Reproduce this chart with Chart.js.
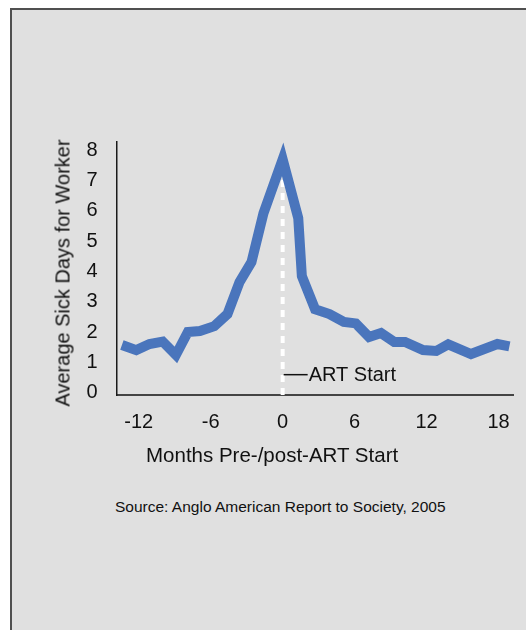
<!DOCTYPE html>
<html>
<head>
<meta charset="utf-8">
<script src="https://cdn.jsdelivr.net/npm/chart.js@4.4.1/dist/chart.umd.min.js"></script>
<style>
body{margin:0;background:#fff;font-family:"Liberation Sans",Arial,sans-serif;}
#panel{position:absolute;left:10px;top:8px;width:514px;height:620px;background:#e0e0e0;border-left:2px solid #505050;border-top:2px solid #505050;}
#wrap{position:absolute;left:0;top:0;width:526px;height:470px;}
.note{position:absolute;color:#111;white-space:nowrap;}
#yTitle{left:63px;top:273px;font-size:20px;transform:translate(-50%,-50%) rotate(-90deg);}
</style>
</head>
<body>
<div id="panel"></div>
<div id="wrap"><canvas id="myChart"></canvas></div>
<div class="note" id="yTitle">Average Sick Days for Worker</div>
<div class="note" id="xTitle" style="left:146px;top:443px;font-size:20.5px;">Months Pre-/post-ART Start</div>
<div class="note" id="source" style="left:115px;top:498px;font-size:15.5px;">Source: Anglo American Report to Society, 2005</div>
<script>
// months relative to ART start
var months = [-13.4, -12.2, -11.1, -10.0, -8.9, -7.9, -6.9, -5.7, -4.6, -3.6, -2.6, -1.6, 0,
              1.3, 1.6, 2.7, 3.9, 5.1, 6.1, 7.2, 8.2, 9.3, 10.2, 11.7, 12.8, 13.8, 15.7, 17.9, 18.9];
// average sick days per worker
var sickDays = [1.58, 1.41, 1.61, 1.69, 1.25, 2.01, 2.04, 2.2, 2.6, 3.65, 4.31, 5.92, 7.7,
                5.76, 3.85, 2.76, 2.6, 2.34, 2.29, 1.84, 1.97, 1.68, 1.68, 1.41, 1.38, 1.6, 1.28, 1.61, 1.53];
// ART start marker
var artMonth = [0, 0];
var artDays = [-0.07, 7.6];

var monthTicks = [-12, -6, 0, 6, 12, 18];
var dayTicks = [0, 1, 2, 3, 4, 5, 6, 7, 8];

var FONT = '"Liberation Sans", Arial, sans-serif';
Chart.defaults.font.family = FONT;
Chart.defaults.color = '#111';

var artLabel = {
    id: 'artLabel',
    afterDatasetsDraw: function(chart){
        var ctx = chart.ctx;
        var px = chart.scales.x.getPixelForValue(artMonth[0]);
        var py = chart.scales.y.getPixelForValue(0.6);
        ctx.save();
        ctx.strokeStyle = '#111';
        ctx.lineWidth = 1.5;
        ctx.beginPath();
        ctx.moveTo(px + 1, py);
        ctx.lineTo(px + 25, py);
        ctx.stroke();
        ctx.fillStyle = '#111';
        ctx.font = '20px ' + FONT;
        ctx.textBaseline = 'middle';
        ctx.fillText('ART Start', px + 26, py + 1);
        ctx.restore();
    }
};

var ctx = document.getElementById('myChart').getContext('2d');
var chart = new Chart(ctx, {
    type: 'line',
    data: {
        datasets: [{
            label: 'Average Sick Days',
            data: sickDays.map(function(v, i){ return {x: months[i], y: v}; }),
            borderColor: '#4a75bc',
            borderWidth: 10,
            borderJoinStyle: 'miter',
            borderCapStyle: 'butt',
            pointRadius: 0,
            tension: 0,
            fill: false
        }, {
            label: 'ART Start',
            data: artDays.map(function(v, i){ return {x: artMonth[i], y: v}; }),
            borderColor: '#ffffff',
            borderWidth: 4,
            borderDash: [7, 6],
            pointRadius: 0,
            fill: false
        }]
    },
    options: {
        responsive: true,
        maintainAspectRatio: false,
        animation: false,
        layout: { padding: { top: 142, right: 13, left: 0, bottom: 0 } },
        plugins: {
            legend: { display: false },
            tooltip: { enabled: false }
        },
        scales: {
            x: {
                type: 'linear',
                min: -13.85,
                max: 19.2,
                afterBuildTicks: function(s){ s.ticks = monthTicks.map(function(v){ return {value: v}; }); },
                afterFit: function(s){ s.height = 75; },
                grid: { display: false, drawTicks: false },
                border: { display: true, color: '#444', width: 2 },
                ticks: { padding: 15, font: { size: 20 }, color: '#111', autoSkip: false, maxRotation: 0 }
            },
            y: {
                type: 'linear',
                min: -0.07,
                max: 8.27,
                afterBuildTicks: function(s){ s.ticks = dayTicks.map(function(v){ return {value: v}; }); },
                afterFit: function(s){ s.width = 116.5; },
                grid: { display: false, drawTicks: false },
                border: { display: true, color: '#1a1a1a', width: 1.5 },
                ticks: { padding: 19, font: { size: 20 }, color: '#111' }
            }
        }
    },
    plugins: [artLabel]
});
</script>
</body>
</html>
